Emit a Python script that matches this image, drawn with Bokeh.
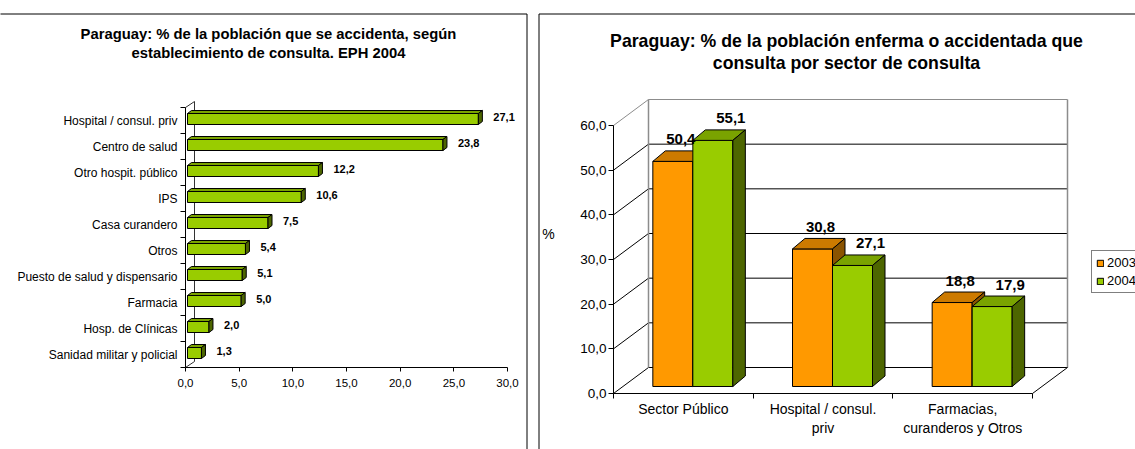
from bokeh.plotting import figure
from bokeh.layouts import row
from bokeh.models import (Range1d, FixedTicker, LinearAxis, Label, LabelSet,
                          ColumnDataSource, Legend, LegendItem)
from bokeh.core.properties import value
from bokeh.embed import file_html
from bokeh.resources import INLINE

FONT = "Liberation Sans"

# ---------------- data ----------------
left_title = ["Paraguay: % de la población que se accidenta, según",
              "establecimiento de consulta. EPH 2004"]
left_cats = ["Hospital / consul. priv", "Centro de salud", "Otro hospit. público", "IPS",
             "Casa curandero", "Otros", "Puesto de salud y dispensario", "Farmacia",
             "Hosp. de Clínicas", "Sanidad militar y policial"]
left_vals = [27.1, 23.8, 12.2, 10.6, 7.5, 5.4, 5.1, 5.0, 2.0, 1.3]
left_ticks = [0, 5, 10, 15, 20, 25, 30]

right_title = ["Paraguay: % de la población enferma o accidentada que",
               "consulta por sector de consulta"]
right_cats = ["Sector Público", "Hospital / consul.\npriv", "Farmacias,\ncuranderos y Otros"]
series_names = ["2003", "2004"]
vals_2003 = [50.4, 30.8, 18.8]
vals_2004 = [55.1, 27.1, 17.9]
right_ticks = [0, 10, 20, 30, 40, 50, 60]
right_ylabel = "%"

# ---------------- styles ----------------
GREEN, GREEN_TOP, GREEN_SIDE = "#99CC00", "#7AA300", "#4D6600"
ORANGE, ORANGE_TOP, ORANGE_SIDE = "#FF9900", "#CC7A00", "#8A5300"


def fmt(v):
    return f"{v:.1f}".replace(".", ",")


W1, W2, H = 532, 603, 449


def make_fig(width, ux, uy, ax, ay):
    p = figure(width=width, height=H,
               x_range=Range1d(-ax / ux, (width - ax) / ux),
               y_range=Range1d((ay - H) / uy, ay / uy),
               x_axis_type=None, y_axis_type=None, output_backend="svg",
               toolbar_location=None, min_border=0)
    p.min_border_left = p.min_border_right = p.min_border_top = p.min_border_bottom = 0
    p.outline_line_color = None
    p.background_fill_color = "white"
    p.border_fill_color = "white"
    p.title.visible = False
    return p


# ================= LEFT CHART =================
L_AX, L_AY = 185, 367          # px of the value-0 axis / category-0 axis
L_PLOT_R = 507                 # px of the last x tick
L_CAT_PX = 26
L_BACK_DX, L_BACK_DY = 9, 6
L_BAR_DX, L_BAR_DY = 2, 1.5
L_BAR_H = 11
L_DEPTH_DX, L_DEPTH_DY = 4, 3
L_LABEL_DX, L_LABEL_DY = 15, 2.5

n1 = len(left_cats)
x1max = left_ticks[-1]
ux1 = (L_PLOT_R - L_AX) / x1max
uy1 = L_CAT_PX
p1 = make_fig(W1, ux1, uy1, L_AX, L_AY)


def lx(cx):
    return (cx - L_AX) / ux1


def ly(cy):
    return (L_AY - cy) / uy1


# panel border (top + right)
p1.multi_line(xs=[[lx(-10), lx(526.5)], [lx(526.5), lx(526.5)]],
              ys=[[ly(13.5), ly(13.5)], [ly(13.5), ly(H + 10)]],
              line_color="black", line_width=1)

bx1, by1 = L_BACK_DX / ux1, L_BACK_DY / uy1
p1.segment(x0=[0, bx1, 0], y0=[0, by1, n1], x1=[bx1, bx1, bx1], y1=[by1, n1 + by1, n1 + by1],
           line_color="#333333", line_width=1)

centers1 = [n1 - i - 0.5 for i in range(n1)]
x0 = L_BAR_DX / ux1
hh = L_BAR_H / 2 / uy1
ddx1, ddy1 = L_DEPTH_DX / ux1, L_DEPTH_DY / uy1
yc = [c + L_BAR_DY / uy1 for c in centers1]
right_ends = [v + x0 for v in left_vals]
p1.hbar(y=yc, left=x0, right=right_ends, height=2 * hh, fill_color=GREEN,
        line_color="black", line_width=1)
top_xs, top_ys, end_xs, end_ys = [], [], [], []
for y, xr in zip(yc, right_ends):
    yt, yb = y + hh, y - hh
    top_xs.append([x0, xr, xr + ddx1, x0 + ddx1])
    top_ys.append([yt, yt, yt + ddy1, yt + ddy1])
    end_xs.append([xr, xr + ddx1, xr + ddx1, xr])
    end_ys.append([yb, yb + ddy1, yt + ddy1, yt])
p1.patches(top_xs, top_ys, fill_color=GREEN_TOP, line_color="black", line_width=1)
p1.patches(end_xs, end_ys, fill_color=GREEN_SIDE, line_color="black", line_width=1)

lab1 = ColumnDataSource(dict(
    x=[v + (L_BAR_DX + L_LABEL_DX) / ux1 for v in left_vals],
    y=[c + (L_BAR_DY + L_LABEL_DY) / uy1 for c in centers1],
    t=[fmt(v) for v in left_vals]))
p1.add_layout(LabelSet(x="x", y="y", text="t", source=lab1, text_font=value(FONT),
                       text_font_size="11px", text_font_style="bold", text_color="black",
                       text_align="left", text_baseline="middle"))

xa1 = LinearAxis(ticker=FixedTicker(ticks=left_ticks), fixed_location=0, bounds=(0, x1max),
                 major_label_overrides={t: fmt(t) for t in left_ticks})
xa1.major_tick_out, xa1.major_tick_in = 4, 0
xa1.minor_tick_out, xa1.minor_tick_in = 0, 0
xa1.major_label_standoff = 7
xa1.major_label_text_font = FONT
xa1.major_label_text_font_size = "11.5px"
xa1.major_label_text_color = "black"
xa1.axis_line_color = "black"
xa1.major_tick_line_color = "black"
p1.add_layout(xa1, "below")

ya1 = LinearAxis(ticker=FixedTicker(ticks=centers1, minor_ticks=list(range(n1 + 1))),
                 fixed_location=0, bounds=(0, n1),
                 major_label_overrides={c: name for c, name in zip(centers1, left_cats)})
ya1.major_tick_out, ya1.major_tick_in = 0, 0
ya1.minor_tick_out, ya1.minor_tick_in = 5, 0
ya1.major_label_standoff = 3
ya1.major_label_text_font = FONT
ya1.major_label_text_font_size = "12px"
ya1.major_label_text_color = "black"
ya1.axis_line_color = "black"
ya1.minor_tick_line_color = "black"
p1.add_layout(ya1, "left")

for txt, cy in zip(left_title, [33, 52]):
    p1.add_layout(Label(x=lx(268), y=ly(cy), text=txt,
                        text_font=FONT, text_font_size="14.8px", text_font_style="bold",
                        text_align="center", text_baseline="middle", text_color="black"))

# ================= RIGHT CHART =================
R_AX, R_AY = 81, 393           # px of front value axis / front floor
R_PLOT_R, R_PLOT_T = 500, 125  # px of last category edge / top tick (front)
R_BACK_DX, R_BACK_DY = 35, 26
R_PLANE_DX, R_PLANE_DY = 9.5, 7
R_BAR_W = 40
R_DEPTH_DX, R_DEPTH_DY = 12.5, 10.5
R_LABEL_DX = [8, 18]
R_LABEL_DY = 22

n2 = len(right_cats)
y2max = right_ticks[-1]
ux2 = (R_PLOT_R - R_AX) / n2
uy2 = (R_AY - R_PLOT_T) / y2max
p2 = make_fig(W2, ux2, uy2, R_AX, R_AY)


def rx(cx):
    return (cx - R_AX) / ux2


def ry(cy):
    return (R_AY - cy) / uy2


p2.multi_line(xs=[[rx(6.5), rx(W2 + 10)], [rx(6.5), rx(6.5)]],
              ys=[[ry(13.5), ry(13.5)], [ry(13.5), ry(H + 10)]],
              line_color="black", line_width=1)

bx2, by2 = R_BACK_DX / ux2, R_BACK_DY / uy2
grid_cols = ["black"] * (len(right_ticks) - 1) + ["#8C8C8C"]
p2.segment(x0=[bx2] * len(right_ticks), y0=[t + by2 for t in right_ticks],
           x1=[n2 + bx2] * len(right_ticks), y1=[t + by2 for t in right_ticks],
           line_color=grid_cols, line_width=1)
p2.segment(x0=[0] * len(right_ticks), y0=right_ticks,
           x1=[bx2] * len(right_ticks), y1=[t + by2 for t in right_ticks],
           line_color=grid_cols, line_width=1)
p2.segment(x0=[bx2, n2 + bx2], y0=[by2, by2], x1=[bx2, n2 + bx2], y1=[y2max + by2, y2max + by2],
           line_color="#8C8C8C", line_width=1.5)
p2.segment(x0=[n2], y0=[0], x1=[n2 + bx2], y1=[by2], line_color="black", line_width=1)

pdx, pdy = R_PLANE_DX / ux2, R_PLANE_DY / uy2
bw = R_BAR_W / ux2
ddx2, ddy2 = R_DEPTH_DX / ux2, R_DEPTH_DY / uy2
series = [vals_2003, vals_2004]
fronts = [(ORANGE, ORANGE_TOP, ORANGE_SIDE), (GREEN, GREEN_TOP, GREEN_SIDE)]
legend_items = []
lab_x, lab_y, lab_t = [], [], []
for s, vals in enumerate(series):
    fc, tc, sc = fronts[s]
    xc = [i + 0.5 + (s - 0.5) * bw + pdx for i in range(n2)]
    tops = [v + pdy for v in vals]
    r = p2.vbar(x=xc, bottom=pdy, top=tops, width=bw, fill_color=fc,
                line_color="black", line_width=1)
    legend_items.append(LegendItem(label=series_names[s], renderers=[r]))
    txs, tys, sxs, sys_ = [], [], [], []
    for x, t in zip(xc, tops):
        xl, xr = x - bw / 2, x + bw / 2
        txs.append([xl, xr, xr + ddx2, xl + ddx2])
        tys.append([t, t, t + ddy2, t + ddy2])
        sxs.append([xr, xr + ddx2, xr + ddx2, xr])
        sys_.append([pdy, pdy + ddy2, t + ddy2, t])
    p2.patches(txs, tys, fill_color=tc, line_color="black", line_width=1)
    p2.patches(sxs, sys_, fill_color=sc, line_color="black", line_width=1)
    for x, t, v in zip(xc, tops, vals):
        lab_x.append(x + R_LABEL_DX[s] / ux2)
        lab_y.append(t + R_LABEL_DY / uy2)
        lab_t.append(fmt(v))

p2.add_layout(LabelSet(x="x", y="y", text="t",
                       source=ColumnDataSource(dict(x=lab_x, y=lab_y, t=lab_t)),
                       text_font=value(FONT), text_font_size="15px", text_font_style="bold",
                       text_color="black", text_align="center", text_baseline="middle"))

ya2 = LinearAxis(ticker=FixedTicker(ticks=right_ticks), fixed_location=0, bounds=(0, y2max),
                 major_label_overrides={t: fmt(t) for t in right_ticks})
ya2.major_tick_out, ya2.major_tick_in = 5, 0
ya2.minor_tick_out, ya2.minor_tick_in = 0, 0
ya2.major_label_standoff = 2
ya2.major_label_text_font = FONT
ya2.major_label_text_font_size = "13.5px"
ya2.major_label_text_color = "black"
ya2.axis_line_color = "black"
p2.add_layout(ya2, "left")

cat_centers = [i + 0.5 for i in range(n2)]
xa2 = LinearAxis(ticker=FixedTicker(ticks=cat_centers, minor_ticks=list(range(n2 + 1))),
                 fixed_location=0, bounds=(0, n2),
                 major_label_overrides={c: name for c, name in zip(cat_centers, right_cats)})
xa2.major_tick_out, xa2.major_tick_in = 0, 0
xa2.minor_tick_out, xa2.minor_tick_in = 5, 0
xa2.major_label_standoff = 2
xa2.major_label_text_font = FONT
xa2.major_label_text_font_size = "14px"
xa2.major_label_text_color = "black"
xa2.axis_line_color = "black"
xa2.minor_tick_line_color = "black"
p2.add_layout(xa2, "below")

legend = Legend(items=legend_items, location=(559, H - 293), orientation="vertical",
                border_line_color="black", border_line_width=1,
                background_fill_color="white", background_fill_alpha=1,
                padding=4, spacing=3, margin=0, glyph_width=8, glyph_height=8,
                label_height=13, label_standoff=3, label_text_font=FONT,
                label_text_font_size="13px", label_text_color="black")
p2.add_layout(legend, "center")

p2.add_layout(Label(x=rx(16), y=ry(233), text=right_ylabel,
                    text_font=FONT, text_font_size="14px", text_align="center",
                    text_baseline="middle", text_color="black"))
for txt, cy in zip(right_title, [40, 62]):
    p2.add_layout(Label(x=rx(314), y=ry(cy), text=txt,
                        text_font=FONT, text_font_size="17.7px", text_font_style="bold",
                        text_align="center", text_baseline="middle", text_color="black"))

layout = row(p1, p2)
open("out.html", "w").write(file_html(layout, INLINE))
